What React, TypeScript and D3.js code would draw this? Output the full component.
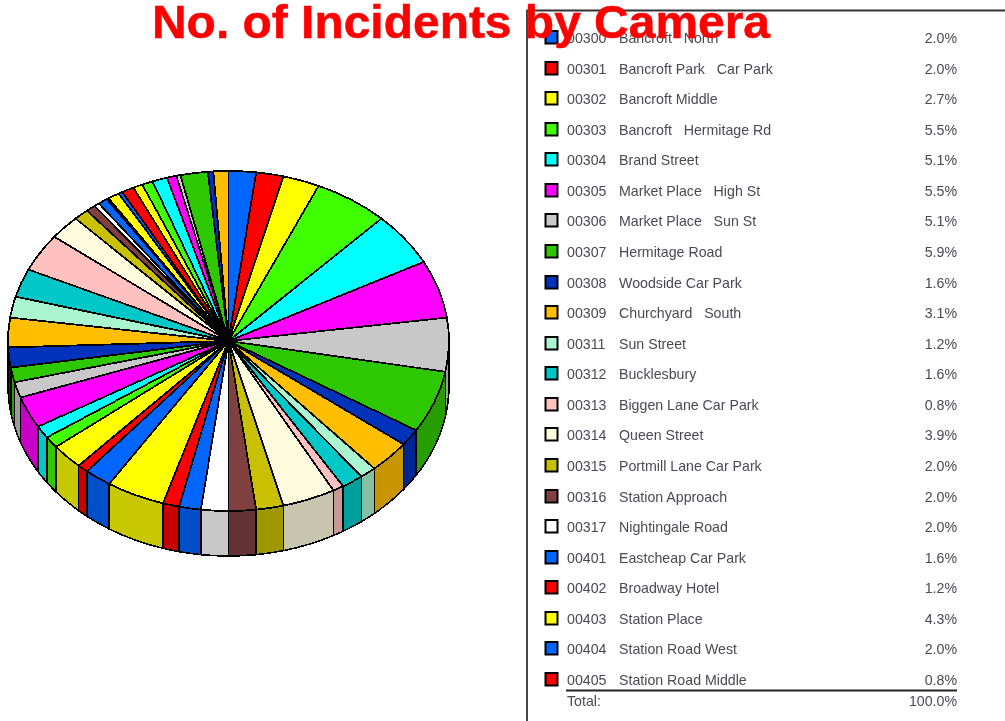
import React from "react";
import { arc, pie, rgb, scaleOrdinal, scalePoint } from "d3";

const legendCodes = ["00300", "00301", "00302", "00303", "00304", "00305", "00306", "00307", "00308", "00309", "00311", "00312", "00313", "00314", "00315", "00316", "00317", "00401", "00402", "00403", "00404", "00405"];
const legendNames = ["Bancroft   North", "Bancroft Park   Car Park", "Bancroft Middle", "Bancroft   Hermitage Rd", "Brand Street", "Market Place   High St", "Market Place   Sun St", "Hermitage Road", "Woodside Car Park", "Churchyard   South", "Sun Street", "Bucklesbury", "Biggen Lane Car Park", "Queen Street", "Portmill Lane Car Park", "Station Approach", "Nightingale Road", "Eastcheap Car Park", "Broadway Hotel", "Station Place", "Station Road West", "Station Road Middle"];
const legendValues = [2.0, 2.0, 2.7, 5.5, 5.1, 5.5, 5.1, 5.9, 1.6, 3.1, 1.2, 1.6, 0.8, 3.9, 2.0, 2.0, 2.0, 1.6, 1.2, 4.3, 2.0, 0.8];
// the legend is cut off by the page, these slices are only readable from the pie
const unlistedValues = [2.4, 1.1, 1.2, 3.0, 1.5, 1.4, 1.9, 2.8, 2.0, 2.7, 3.6, 2.3, 1.1, 0.7, 0.4, 0.7, 0.15, 0.85, 0.3, 0.9, 0.7, 0.8, 1.1, 0.7, 0.3, 2.0, 0.4, 1.1];
const palette = ["#0066ff", "#ff0000", "#ffff00", "#3fff00", "#00ffff", "#ff00ff", "#c8c8c8", "#2fc800", "#0033bb", "#ffbf00", "#aaf5d0", "#00c8c8", "#ffc0c0", "#fffbdf", "#c8c000", "#804040", "#ffffff", "#0066ff", "#ff0000", "#ffff00"];

const cx = 228.5;
const cy = 341;
const rx = 220.5;
const ry = 170;
const depth = 45;

const sliceValues = [...legendValues, ...unlistedValues];
const color = scaleOrdinal<number, string>().domain(palette.map((_, i) => i)).range(palette);
const slices = pie<number>().sort(null).startAngle(0).endAngle(2 * Math.PI)(sliceValues);
const topArc = arc<any>().innerRadius(0).outerRadius(rx);
const rowY = scalePoint<string>().domain(legendCodes).range([38, 680]);

function shade(c: string) {
  const k = rgb(c);
  return rgb(k.r * 0.784, k.g * 0.784, k.b * 0.784).formatHex();
}

// side wall of a slice, only the front half of the ellipse shows
function wallPath(a0: number, a1: number) {
  const start = Math.max(a0, Math.PI / 2);
  const end = Math.min(a1, (3 * Math.PI) / 2);
  if (end <= start) return null;
  const x0 = cx + rx * Math.sin(start);
  const y0 = cy - ry * Math.cos(start);
  const x1 = cx + rx * Math.sin(end);
  const y1 = cy - ry * Math.cos(end);
  return `M${x0},${y0}A${rx},${ry} 0 0 1 ${x1},${y1}L${x1},${y1 + depth}A${rx},${ry} 0 0 0 ${x0},${y0 + depth}Z`;
}

const pre = { whiteSpace: "pre" } as React.CSSProperties;

export default function App() {
  return (
    <svg width={1005} height={721} style={{ position: "absolute", left: 0, top: 0, display: "block", background: "#fff" }}>
      <defs>
        <filter id="soft" x="-5%" y="-5%" width="110%" height="110%">
          <feGaussianBlur stdDeviation="0.65" />
        </filter>
        <filter id="softer" x="-5%" y="-5%" width="110%" height="110%">
          <feGaussianBlur stdDeviation="0.4" />
        </filter>
      </defs>

      <g filter="url(#softer)" shapeRendering="crispEdges">
        {slices.map((s, i) => {
          const d = wallPath(s.startAngle, s.endAngle);
          return d ? <path key={i} d={d} fill={shade(color(i))} stroke="#000" strokeWidth={1.6} /> : null;
        })}
        <g transform={`translate(${cx},${cy}) scale(1,${ry / rx})`}>
          {slices.map((s, i) => (
            <path key={i} d={topArc(s) as string} fill={color(i)} stroke="#000" strokeWidth={1.8} vectorEffect="non-scaling-stroke" />
          ))}
        </g>
      </g>

      <path d="M527,721V10.5H1005" fill="none" stroke="#333" strokeWidth={1.8} />

      <g fontFamily="'Liberation Sans', Arial, sans-serif" fontSize={14.2} fill="#4a4a55">
        {legendCodes.map((code, i) => {
          const y = rowY(code) as number;
          return (
            <g key={code}>
              <rect x={545.5} y={Math.round(y) - 7} width={12} height={12.5} fill={color(i)} stroke="#000" strokeWidth={2} filter="url(#softer)" />
              <g filter="url(#soft)">
                <text x={567} y={y + 5}>{code}</text>
                <text x={619} y={y + 5} xmlSpace="preserve" style={pre}>{legendNames[i]}</text>
                <text x={957} y={y + 5} textAnchor="end">{legendValues[i].toFixed(1)}%</text>
              </g>
            </g>
          );
        })}
        <line x1={566} x2={957} y1={690.5} y2={690.5} stroke="#222" strokeWidth={2} />
        <g filter="url(#soft)">
          <text x={567} y={706}>Total:</text>
          <text x={957} y={706} textAnchor="end">100.0%</text>
        </g>
      </g>

      <text x={152} y={38} textLength={618} lengthAdjust="spacingAndGlyphs" stroke="#ff0000" strokeWidth={0.5} filter="url(#softer)" fontFamily="'Liberation Sans', Arial, sans-serif" fontWeight="bold" fontSize={46} fill="#ff0000">
        No. of Incidents by Camera
      </text>
    </svg>
  );
}
